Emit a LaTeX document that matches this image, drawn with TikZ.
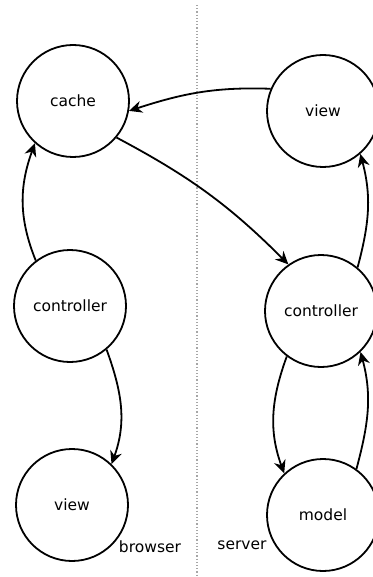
\documentclass[tikz,border=0pt]{standalone}
\usepackage{fontspec}
\setmainfont{DejaVu Sans}
\usetikzlibrary{arrows.meta}
\begin{document}
\begin{tikzpicture}[x=1pt,y=-1pt,
  state/.style={circle,draw,line width=1.8pt,minimum size=112pt,inner sep=0pt,font=\fontsize{15.5}{18}\selectfont},
  flow/.style={line width=1.8pt,-{Stealth[length=13pt,width=12pt]}},
  lbl/.style={font=\fontsize{15.5}{18}\selectfont,inner sep=0pt}]
\useasboundingbox (0,0) rectangle (372,577);
\draw[gray!70,line width=1.2pt,dotted] (197,5) -- (197,577);
\node[state] (c1) at (73,101) {cache};
\node[state] (bc) at (70,306) {controller};
\node[state] (bv) at (72,505) {view};
\node[state] (sv) at (323,111) {view};
\node[state] (sc) at (321,311) {controller};
\node[state] (sm) at (323,515) {model};
\node[lbl] (br) at (150,547) {browser};
\node[lbl] (sr) at (242,545) {server};
\draw[flow] (sv.157) to[out=178,in=18] (c1.-10);
\draw[flow] (c1.-40) to[out=-28,in=135] (sc.125);
\draw[flow] (bc.127) to[out=112,in=-110] (c1.-132);
\draw[flow] (bc.-50) to[out=-70,in=70] (bv.46);
\draw[flow] (sc.-127) to[out=-110,in=110] (sm.133);
\draw[flow] (sm.54) to[out=75,in=-75] (sc.-46);
\draw[flow] (sc.50) to[out=75,in=-75] (sv.-49);
\end{tikzpicture}
\end{document}
